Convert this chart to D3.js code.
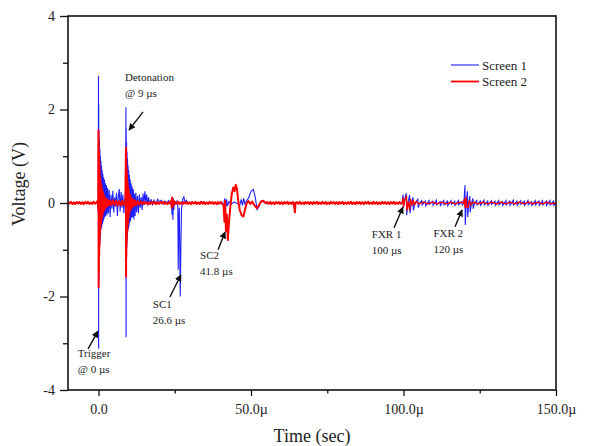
<!DOCTYPE html>
<html>
<head>
<meta charset="utf-8">
<script src="https://cdn.jsdelivr.net/npm/d3@7"></script>
<style>
  body { margin: 0; background: #fff; }
  text { font-family: "Liberation Serif", "Times New Roman", serif; fill: #222; }
</style>
</head>
<body>
<div id="chart"></div>
<script>
// time in microseconds, voltage in volts
var screen1 = [
  [-10, 0.01], [-8, -0.01], [-6, 0.01], [-4, 0], [-2, 0.01], [-0.5, 0], [-0.2, 0.04], [-0.1, -0.2],
  [0, 2.72], [0.04, -3.12], [0.08, 2.1], [0.12, -1.8], [0.17, 1.55], [0.22, -1.1], [0.3, 1.35], [0.38, -0.95],
  [0.46, 1.15], [0.54, -0.8], [0.62, 1.0], [0.7, -0.65], [0.8, 0.9], [0.9, -0.55], [1.0, 0.8], [1.1, -0.5],
  [1.2, 0.7], [1.3, -0.45], [1.42, 0.62], [1.55, -0.4], [1.68, 0.55], [1.8, -0.35], [1.95, 0.5], [2.1, -0.3],
  [2.25, 0.42], [2.4, -0.28], [2.6, 0.38], [2.8, -0.25], [3.0, 0.32], [3.25, -0.22], [3.5, 0.28], [3.8, -0.3],
  [4.1, 0.18], [4.4, -0.12], [4.7, 0.26], [5.0, -0.2], [5.3, 0.12], [5.6, -0.08], [5.9, 0.22], [6.2, -0.28],
  [6.5, 0.15], [6.8, 0.3], [7.1, -0.18], [7.4, 0.24], [7.7, -0.1], [8.0, 0.18], [8.3, -0.22], [8.6, 0.1], [8.85, -0.05],
  [9.0, 2.05], [9.04, -2.87], [9.08, 1.6], [9.13, -1.3], [9.2, 1.3], [9.28, -0.95], [9.36, 1.1], [9.44, -0.75],
  [9.52, 0.95], [9.6, -0.6], [9.7, 0.8], [9.8, -0.55], [9.9, 0.7], [10.0, -0.5], [10.12, 0.6], [10.25, -0.42],
  [10.4, 0.5], [10.55, -0.38], [10.7, 0.42], [10.85, -0.32], [11.0, 0.36], [11.2, -0.3], [11.4, 0.3], [11.6, -0.35],
  [11.8, 0.2], [12.0, -0.28], [12.25, 0.22], [12.5, -0.2], [12.8, 0.15], [13.1, -0.22], [13.4, 0.18], [13.7, -0.1],
  [14.0, 0.12], [14.3, -0.15], [14.6, 0.2], [14.9, -0.05], [15.2, 0.25], [15.5, 0.02], [15.8, 0.18], [16.1, -0.06],
  [16.4, 0.12], [16.8, -0.04], [17.2, 0.08], [17.7, -0.03], [18.2, 0.06], [18.8, -0.02], [19.4, 0.08], [20, 0.02],
  [20.6, 0.06], [21.2, -0.02], [21.8, 0.04], [22.4, 0.0], [23.0, 0.05], [23.5, -0.02], [23.9, 0.08], [24.1, -0.25],
  [24.25, 0.12], [24.4, -0.36], [24.55, 0.1], [24.7, -0.15], [24.9, 0.05], [25.3, -0.02], [25.7, 0.04], [26.0, -0.05],
  [26.15, -1.43], [26.3, -0.3], [26.5, -0.1], [26.8, -2.0], [27.0, -1.0], [27.2, -0.15], [27.6, 0.08], [28.0, 0.13],
  [28.4, 0.0], [28.8, 0.06], [29.4, -0.02], [30.5, 0.02], [32, -0.01], [34, 0.02], [36, -0.01], [38, 0.01],
  [39, -0.03], [40, 0.02], [41, -0.05], [41.4, 0.1], [41.7, -0.12], [42.0, 0.08], [42.3, -0.06], [42.8, 0.03],
  [43.5, -0.02], [44.5, 0.02], [45.5, -0.01], [46.3, -0.06], [46.8, 0.08], [47.2, -0.05], [47.6, 0.1], [48.0, -0.02],
  [48.6, 0.05], [49.3, 0.12], [50.0, 0.25], [50.8, 0.29], [51.4, 0.12], [52.0, -0.14], [52.6, -0.08], [53.3, 0.04],
  [54.0, 0.03], [55, -0.02], [56.5, 0.01], [58, -0.01], [62, 0.01], [68, -0.01], [75, 0.01], [82, -0.01], [90, 0.01], [96, -0.01],
  [99.5, 0.0], [99.85, 0.18], [99.95, -0.1], [100.2, 0.02], [100.9, 0.21], [101.05, -0.26], [101.4, 0.0],
  [102.0, 0.17], [102.15, -0.22], [102.6, 0.01], [103.1, 0.12], [103.25, -0.16], [103.8, 0.0], [104.7, 0.08],
  [104.85, -0.1], [105.3, 0.0], [106, 0.05], [106.1, -0.04], [107.2, 0.04], [107.3, -0.06], [108.4, 0.05],
  [108.5, -0.03], [109.6, 0.04], [109.7, -0.05], [110.8, 0.06], [110.9, -0.04], [112.0, 0.03], [112.1, -0.05],
  [113.2, 0.05], [113.3, -0.04], [114.4, 0.04], [114.5, -0.06], [115.6, 0.05], [115.7, -0.03], [116.8, 0.04],
  [116.9, -0.05], [118.0, 0.05], [118.1, -0.04], [119.2, 0.03], [119.3, -0.04],
  [119.8, 0.0], [120.15, 0.38], [120.25, -0.47], [120.6, 0.02], [120.95, 0.25], [121.05, -0.3], [121.4, 0.0],
  [121.75, 0.15], [121.85, -0.2], [122.3, 0.0], [122.75, 0.1], [122.85, -0.12], [123.3, 0.0],
  [124.0, 0.05], [124.1, -0.04], [125.2, 0.04], [125.3, -0.05], [126.4, 0.06], [126.5, -0.04], [127.6, 0.04],
  [127.7, -0.05], [128.8, 0.05], [128.9, -0.03], [130.0, 0.04], [130.1, -0.05], [131.2, 0.05], [131.3, -0.04],
  [132.4, 0.03], [132.5, -0.05], [133.6, 0.05], [133.7, -0.04], [134.8, 0.04], [134.9, -0.05], [136.0, 0.06],
  [136.1, -0.04], [137.2, 0.04], [137.3, -0.05], [138.4, 0.05], [138.5, -0.03], [139.6, 0.04], [139.7, -0.05],
  [140.8, 0.05], [140.9, -0.04], [142.0, 0.03], [142.1, -0.05], [143.2, 0.05], [143.3, -0.04], [144.4, 0.04],
  [144.5, -0.05], [145.6, 0.05], [145.7, -0.04], [146.8, 0.04], [146.9, -0.05], [148.0, 0.05], [148.1, -0.04],
  [149.2, 0.04], [149.3, -0.05], [150, 0.0]
];

var screen2 = [
  [-10, 0.02], [-9.5, -0.01], [-9.1, 0.025], [-8.6, -0.02], [-8.1, 0.01], [-7.7, -0.025], [-7.2, 0.02], [-6.7, -0.01],
  [-6.3, 0.02], [-5.8, -0.02], [-5.3, 0.015], [-4.9, -0.025], [-4.4, 0.02], [-3.9, -0.01], [-3.5, 0.025], [-3.0, -0.02],
  [-2.5, 0.01], [-2.1, -0.02], [-1.6, 0.025], [-1.1, -0.015], [-0.6, 0.02], [-0.2, 0.05], [-0.1, -0.12],
  [0, 1.55], [0.04, -1.8], [0.08, 1.3], [0.12, -1.5], [0.17, 1.05], [0.22, -1.15], [0.28, 0.85], [0.34, -0.9],
  [0.4, 0.7], [0.47, -0.7], [0.54, 0.55], [0.62, -0.55], [0.7, 0.45], [0.8, -0.45], [0.9, 0.38], [1.0, -0.35],
  [1.12, 0.3], [1.25, -0.28], [1.4, 0.24], [1.55, -0.2], [1.7, 0.18], [1.9, -0.15], [2.1, 0.12], [2.35, -0.1],
  [2.6, 0.09], [2.9, -0.07], [3.2, 0.06], [3.5, -0.05], [3.9, 0.05], [4.3, -0.04], [4.8, 0.06], [5.3, -0.04],
  [5.8, 0.05], [6.3, -0.06], [6.8, 0.04], [7.3, -0.05], [7.8, 0.05], [8.3, -0.04], [8.8, 0.03],
  [9.0, 1.18], [9.04, -1.58], [9.08, 0.95], [9.13, -1.15], [9.2, 0.75], [9.27, -0.85], [9.35, 0.6], [9.43, -0.62],
  [9.52, 0.45], [9.62, -0.45], [9.72, 0.35], [9.83, -0.33], [9.95, 0.26], [10.1, -0.22], [10.25, 0.18], [10.45, -0.15],
  [10.65, 0.12], [10.9, -0.1], [11.2, 0.08], [11.5, -0.07], [11.9, 0.06], [12.3, -0.05], [12.8, 0.04], [13.3, -0.03],
  [13.8, 0.03], [14.2, -0.02], [14.7, 0.025], [15.1, -0.015], [15.6, 0.02], [16.1, -0.025], [16.5, 0.01], [17.0, -0.02],
  [17.5, 0.025], [17.9, -0.01], [18.4, 0.02], [18.9, -0.025], [19.3, 0.015], [19.8, -0.02], [20.3, 0.02], [20.7, -0.01],
  [21.2, 0.025], [21.7, -0.02], [22.1, 0.01], [22.6, -0.025], [23.1, 0.02], [23.6, -0.01], [23.9, 0.05], [24.0, -0.1],
  [24.15, 0.12], [24.3, -0.08], [24.5, 0.06], [24.8, -0.03], [25.2, 0.02], [25.7, -0.015], [26.2, 0.025], [26.6, -0.02],
  [27.1, 0.01], [27.6, -0.025], [28.0, 0.02], [28.5, -0.01], [29.0, 0.02], [29.4, -0.02], [29.9, 0.015], [30.4, -0.025],
  [30.8, 0.02], [31.3, -0.01], [31.8, 0.025], [32.2, -0.02], [32.7, 0.01], [33.2, -0.02], [33.6, 0.025], [34.1, -0.015],
  [34.6, 0.02], [35.0, -0.025], [35.5, 0.01], [36.0, -0.02], [36.4, 0.025], [36.9, -0.01], [37.4, 0.02], [37.8, -0.02],
  [38.3, 0.015], [38.8, -0.025], [39.2, 0.02], [39.7, -0.01], [40.2, 0.02],
  [40.6, -0.02], [41.0, -0.05], [41.3, -0.4], [41.5, 0.05], [41.8, -0.6], [42.1, -0.25], [42.4, -0.79], [42.8, -0.4],
  [43.2, -0.1], [43.7, 0.2], [44.2, 0.33], [44.6, 0.25], [45.0, 0.39], [45.4, 0.3], [45.8, 0.06], [46.3, -0.15],
  [46.9, -0.26], [47.5, -0.29], [48.0, -0.15], [48.6, 0.0], [49.2, 0.04], [49.8, -0.02], [50.4, 0.03], [51.0, -0.04],
  [51.9, -0.11], [52.6, -0.05], [53.3, 0.03], [54.0, 0.05], [54.8, 0.0], [55.3, 0.02], [55.8, -0.015], [56.3, 0.025],
  [56.7, -0.02], [57.2, 0.01], [57.7, -0.025], [58.1, 0.02], [58.6, -0.01], [59.1, 0.02], [59.5, -0.02], [60.0, 0.015],
  [60.5, -0.025], [60.9, 0.02], [61.4, -0.01], [61.9, 0.025], [62.3, -0.02], [62.8, 0.01], [63.3, -0.02], [63.7, 0.02],
  [64.0, 0.0], [64.2, -0.1], [64.4, -0.2], [64.6, 0.0], [65.0, 0.02], [65.5, -0.015], [66.0, 0.025], [66.4, -0.02],
  [66.9, 0.01], [67.4, -0.025], [67.8, 0.02], [68.3, -0.01], [68.8, 0.02], [69.2, -0.02], [69.7, 0.015], [70.2, -0.025],
  [70.6, 0.02], [71.1, -0.01], [71.6, 0.025], [72.0, -0.02], [72.5, 0.01], [73.0, -0.02], [73.4, 0.025], [73.9, -0.015],
  [74.4, 0.02], [74.8, -0.025], [75.3, 0.01], [75.8, -0.02], [76.2, 0.025], [76.7, -0.01], [77.2, 0.02], [77.6, -0.02],
  [78.1, 0.015], [78.6, -0.025], [79.0, 0.02], [79.5, -0.01], [80.0, 0.025], [80.4, -0.02], [80.9, 0.01], [81.4, -0.02],
  [81.8, 0.02], [82.3, -0.015], [82.8, 0.025], [83.2, -0.02], [83.7, 0.01], [84.2, -0.025], [84.6, 0.02], [85.1, -0.01],
  [85.6, 0.02], [86.0, -0.02], [86.5, 0.015], [87.0, -0.025], [87.4, 0.02], [87.9, -0.01], [88.4, 0.025], [88.8, -0.02],
  [89.3, 0.01], [89.8, -0.02], [90.2, 0.025], [90.7, -0.015], [91.2, 0.02], [91.6, -0.025], [92.1, 0.01], [92.6, -0.02],
  [93.0, 0.025], [93.5, -0.01], [94.0, 0.02], [94.4, -0.02], [94.9, 0.015], [95.4, -0.025], [95.8, 0.02], [96.3, -0.01],
  [96.8, 0.025], [97.2, -0.02], [97.7, 0.01], [98.2, -0.02], [98.6, 0.02], [99.1, -0.015],
  [99.5, 0.0], [99.9, 0.1], [100.0, -0.08], [100.4, 0.05], [101.0, 0.15], [101.1, -0.15], [101.6, 0.02],
  [102.0, -0.15], [102.3, 0.08], [102.8, -0.05], [103.2, 0.06], [103.6, -0.04], [104.2, 0.03], [105.0, -0.02],
  [106.5, 0.02], [108, -0.02], [109.5, 0.02], [111, -0.02], [112.5, 0.02], [114, -0.02], [115.5, 0.02], [117, -0.02],
  [118.5, 0.02], [119.6, 0.0], [120.0, 0.08], [120.2, -0.1], [120.5, 0.12], [120.8, -0.08], [121.2, -0.1],
  [121.6, 0.05], [122.2, -0.04], [123.0, 0.02], [124.5, -0.02], [126, 0.02], [127.5, -0.02], [129, 0.02],
  [130.5, -0.02], [132, 0.02], [133.5, -0.02], [135, 0.02], [136.5, -0.02], [138, 0.02], [139.5, -0.02],
  [141, 0.02], [142.5, -0.02], [144, 0.02], [145.5, -0.02], [147, 0.02], [148.5, -0.02], [150, 0.0]
];

var seriesNames = ["Screen 1", "Screen 2"];
var xMajorTicks = [0, 50, 100, 150];
var xMinorTicks = [25, 75, 125];
var yMajorTicks = [-4, -2, 0, 2, 4];
var yMinorTicks = [-3, -1, 1, 3];

// annotation text anchors and arrows, in data units (us, V)
var notes = [
  { lines: ["Detonation", "@ 9 \u00b5s"], at: [8.7, 2.6], from: [14.6, 1.95], to: [10.0, 1.56] },
  { lines: ["Trigger", "@ 0 \u00b5s"], at: [-6.8, -3.3], from: [-3.4, -3.12], to: [-0.2, -2.74] },
  { lines: ["SC1", "26.6 \u00b5s"], at: [17.8, -2.24], from: [23.4, -2.01], to: [27.0, -1.54] },
  { lines: ["SC2", "41.8 \u00b5s"], at: [33.3, -1.19], from: [39.2, -1.0], to: [41.5, -0.62] },
  { lines: ["FXR 1", "100 \u00b5s"], at: [89.6, -0.74], from: [96.9, -0.53], to: [99.8, -0.09] },
  { lines: ["FXR 2", "120 \u00b5s"], at: [109.8, -0.72], from: [116.9, -0.51], to: [119.2, -0.15] }
];

var width = 590,
    height = 446;
var margin = { left: 68, right: 34, top: 16, bottom: 56 };

var x = d3.scaleLinear().domain([-10, 150]).range([margin.left, width - margin.right]);
var y = d3.scaleLinear().domain([-4, 4]).range([height - margin.bottom, margin.top]);
var color = d3.scaleOrdinal().domain(seriesNames).range(["#2020ff", "#ff0000"]);

var svg = d3.select("#chart").append("svg")
    .attr("width", width)
    .attr("height", height)

svg.append("defs").append("marker")
    .attr("id", "arrow")
    .attr("viewBox", "0 0 10 10")
    .attr("refX", 9).attr("refY", 5)
    .attr("markerWidth", 7).attr("markerHeight", 7)
    .attr("markerUnits", "userSpaceOnUse")
    .attr("orient", "auto")
    .append("path")
    .attr("d", "M0,0L10,5L0,10Z")
    .attr("fill", "#111");

var line = d3.line()
    .x(function (d) { return x(d[0]); })
    .y(function (d) { return y(d[1]); });

var plot = svg.append("g");

plot.append("path")
    .datum(screen1)
    .attr("d", line)
    .attr("fill", "none")
    .attr("stroke", color("Screen 1"))
    .attr("stroke-width", 1.1);

// red trace is heavier before the FXR pulses than after
plot.append("path")
    .datum(screen2.filter(function (d) { return d[0] <= 99.5; }))
    .attr("d", line)
    .attr("fill", "none")
    .attr("stroke", color("Screen 2"))
    .attr("stroke-width", 2)
    .attr("stroke-linejoin", "round");

plot.append("path")
    .datum(screen2.filter(function (d) { return d[0] >= 99.5; }))
    .attr("d", line)
    .attr("fill", "none")
    .attr("stroke", color("Screen 2"))
    .attr("stroke-width", 1.4)
    .attr("stroke-linejoin", "round");

// axes
var fmtX = function (d) { return d === 0 ? "0.0" : d.toFixed(1) + "\u00b5"; };

var xAxis = svg.append("g")
    .attr("transform", "translate(0," + y.range()[0] + ")")
    .call(d3.axisBottom(x).tickValues(xMajorTicks).tickFormat(fmtX).tickSize(6).tickSizeOuter(0));
svg.append("g")
    .attr("transform", "translate(0," + y.range()[0] + ")")
    .call(d3.axisBottom(x).tickValues(xMinorTicks).tickFormat("").tickSize(3.5).tickSizeOuter(0));

var yAxis = svg.append("g")
    .attr("transform", "translate(" + x.range()[0] + ",0)")
    .call(d3.axisLeft(y).tickValues(yMajorTicks).tickFormat(function (d) { return String(d); }).tickSize(8).tickSizeOuter(0));
svg.append("g")
    .attr("transform", "translate(" + x.range()[0] + ",0)")
    .call(d3.axisLeft(y).tickValues(yMinorTicks).tickFormat("").tickSize(5).tickSizeOuter(0));

svg.selectAll(".domain").remove();
svg.selectAll(".tick line").attr("stroke", "#111").attr("stroke-width", 1.3);
svg.selectAll(".tick text")
    .attr("font-family", "Liberation Serif, serif")
    .attr("font-size", 14)
    .attr("fill", "#222");
xAxis.selectAll(".tick text").attr("dy", "1.1em");
yAxis.selectAll(".tick text").attr("dx", "-0.15em");

// frame
svg.append("rect")
    .attr("x", x.range()[0])
    .attr("y", y.range()[1])
    .attr("width", x.range()[1] - x.range()[0])
    .attr("height", y.range()[0] - y.range()[1])
    .attr("fill", "none")
    .attr("stroke", "#111")
    .attr("stroke-width", 1.6);

// axis titles
svg.append("text")
    .attr("x", (x.range()[0] + x.range()[1]) / 2)
    .attr("y", 442)
    .attr("text-anchor", "middle")
    .attr("font-size", 18)
    .text("Time (sec)");

svg.append("text")
    .attr("transform", "translate(25,184) rotate(-90)")
    .attr("text-anchor", "middle")
    .attr("font-size", 18)
    .text("Voltage (V)");

// legend
var legend = svg.append("g")
    .selectAll("g")
    .data(seriesNames)
    .enter().append("g")
    .attr("transform", function (d, i) { return "translate(451," + (65 + i * 16.5) + ")"; });

legend.append("line")
    .attr("x1", 0).attr("x2", 28)
    .attr("stroke", function (d) { return color(d); })
    .attr("stroke-width", function (d, i) { return i ? 1.8 : 1.1; });

legend.append("text")
    .attr("x", 31)
    .attr("dy", "0.35em")
    .attr("font-size", 13)
    .text(function (d) { return d; });

// annotations
var note = svg.append("g").selectAll("g")
    .data(notes)
    .enter().append("g");

note.append("line")
    .attr("x1", function (d) { return x(d.from[0]); })
    .attr("y1", function (d) { return y(d.from[1]); })
    .attr("x2", function (d) { return x(d.to[0]); })
    .attr("y2", function (d) { return y(d.to[1]); })
    .attr("stroke", "#111")
    .attr("stroke-width", 1.4)
    .attr("marker-end", "url(#arrow)");

note.append("text")
    .attr("x", function (d) { return x(d.at[0]); })
    .attr("y", function (d) { return y(d.at[1]); })
    .attr("font-size", 11)
    .selectAll("tspan")
    .data(function (d) { return d.lines.map(function (l) { return { l: l, x: x(d.at[0]) }; }); })
    .enter().append("tspan")
    .attr("x", function (d) { return d.x; })
    .attr("dy", function (d, i) { return i ? 16 : 0; })
    .text(function (d) { return d.l; });
</script>
</body>
</html>
